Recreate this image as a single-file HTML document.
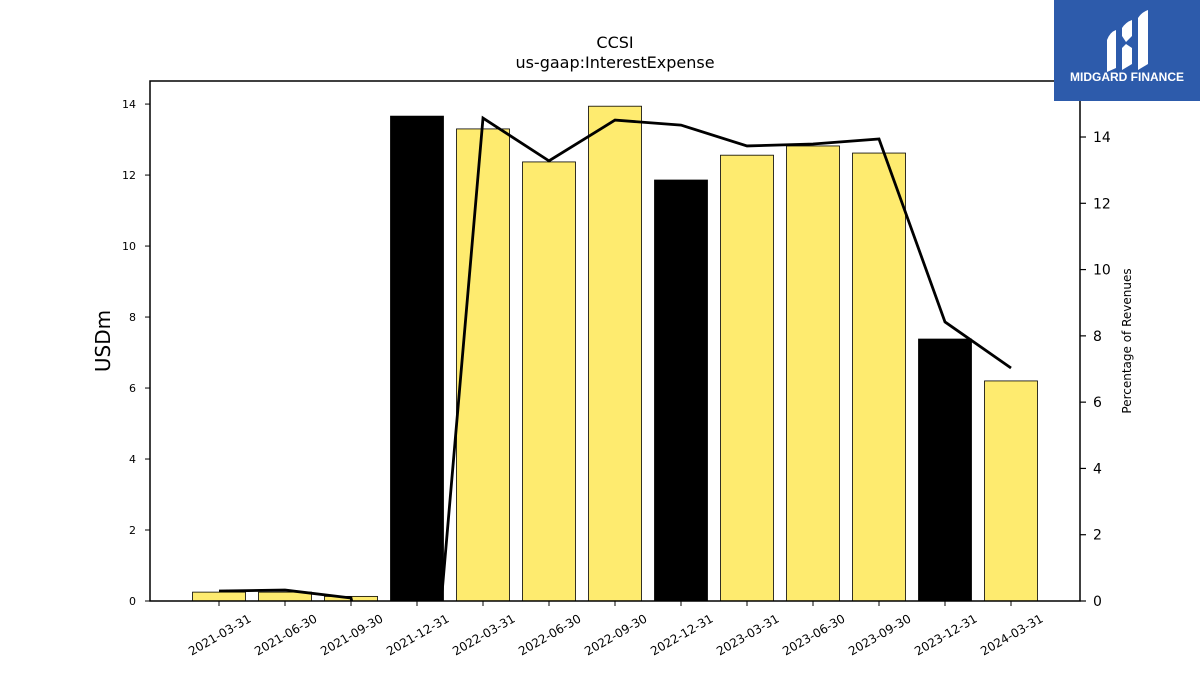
<!DOCTYPE html>
<html><head><meta charset="utf-8"><style>
html,body{margin:0;padding:0;background:#fff;overflow:hidden;width:1200px;height:675px;font-family:"Liberation Sans","DejaVu Sans",sans-serif}
svg{display:block}
</style></head><body>
<svg id="chart" width="1200" height="675" xmlns="http://www.w3.org/2000/svg" font-family="DejaVu Sans, Liberation Sans, sans-serif">
<defs><clipPath id="plotclip"><rect x="150" y="81" width="930" height="520"/></clipPath></defs>
<text x="615" y="48" text-anchor="middle" font-size="16">CCSI</text>
<text x="615" y="68" text-anchor="middle" font-size="16">us-gaap:InterestExpense</text>
<g id="bars"></g>
<g id="line" clip-path="url(#plotclip)"></g>
<rect x="150" y="81" width="930" height="520" fill="none" stroke="#000" stroke-width="1.5"/>
<g id="lticks"></g>
<g id="rticks"></g>
<g id="xticks"></g>
<text transform="translate(110,341) rotate(-90)" text-anchor="middle" font-size="20">USDm</text>
<text transform="translate(1131,341) rotate(-90)" text-anchor="middle" font-size="12">Percentage of Revenues</text>
<g>
<rect x="1054" y="0" width="146" height="101" fill="#2d5bab"/>
<path d="M1107 40 Q1110 32 1116 30 L1116 68 L1107 72 Z M1122 28 Q1126 22 1132 20 L1132 36 L1126 42 L1122 36 Z M1122 48 L1126 44 L1132 48 L1132 64 L1122 70 Z M1138 18 Q1142 12 1148 10 L1148 64 L1138 70 Z" fill="#fff"/>
<text x="1127" y="81" text-anchor="middle" font-size="12" font-weight="bold" fill="#fff" font-family="Liberation Sans, sans-serif">MIDGARD FINANCE</text>
</g>
</svg>
<script>
const categories=["2021-03-31","2021-06-30","2021-09-30","2021-12-31","2022-03-31","2022-06-30","2022-09-30","2022-12-31","2023-03-31","2023-06-30","2023-09-30","2023-12-31","2024-03-31"];
const barValues=[0.25,0.25,0.13,13.66,13.3,12.37,13.94,11.86,12.56,12.82,12.62,7.38,6.2];
const isAnnual=[false,false,false,true,false,false,false,true,false,false,false,true,false];
const pctValues=[0.3,0.33,0.09,-8.5,14.57,13.28,14.51,14.36,13.73,13.79,13.94,8.42,7.03];
const leftTicks=[0,2,4,6,8,10,12,14];
const rightTicks=[0,2,4,6,8,10,12,14];
const NS="http://www.w3.org/2000/svg";
const x0=150,x1=1080,yb=601,yt=81;
const leftMax=14.65,rightMax=15.69;
const xs=i=>219+i*66;
const yl=v=>yb-(v/leftMax)*(yb-yt);
const yr=v=>yb-(v/rightMax)*(yb-yt);
function mk(tag,attrs,parent){const e=document.createElementNS(NS,tag);for(const k in attrs)e.setAttribute(k,attrs[k]);parent.appendChild(e);return e;}
const bars=document.getElementById('bars');
categories.forEach((c,i)=>{
 const r=mk('rect',{x:xs(i)-26.5,y:yl(barValues[i]),width:53,height:yb-yl(barValues[i]),fill:isAnnual[i]?'#000':'#feeb6f',stroke:'#000','stroke-width':0.8},bars);
 
 
});
const line=document.getElementById('line');
const pl=mk('polyline',{points:pctValues.map((v,i)=>xs(i)+','+yr(v)).join(' '),fill:'none',stroke:'#000','stroke-width':2.8},line);


const lt=document.getElementById('lticks');
leftTicks.forEach(t=>{
 const l=mk('line',{x1:x0-5,x2:x0,y1:yl(t),y2:yl(t),stroke:'#000','stroke-width':1},lt);
 
 
 const tx=mk('text',{x:x0-14,y:yl(t)+4,'text-anchor':'end','font-size':11},lt);tx.textContent=t;
 
 
});
const rt=document.getElementById('rticks');
rightTicks.forEach(t=>{
 const l=mk('line',{x1:x1,x2:x1+6,y1:yr(t),y2:yr(t),stroke:'#000','stroke-width':1.2},rt);
 
 
 const tx=mk('text',{x:x1+13,y:yr(t)+5,'font-size':14},rt);tx.textContent=t;
 
 
});
const xt=document.getElementById('xticks');
categories.forEach((c,i)=>{
 const l=mk('line',{x1:xs(i),x2:xs(i),y1:yb,y2:yb+5,stroke:'#000','stroke-width':1},xt);
 
 
 const tx=mk('text',{transform:`translate(${xs(i)+33},${yb+20}) rotate(-30)`,'text-anchor':'end','font-size':12},xt);tx.textContent=c;
 
 
});
</script>
</body></html>
